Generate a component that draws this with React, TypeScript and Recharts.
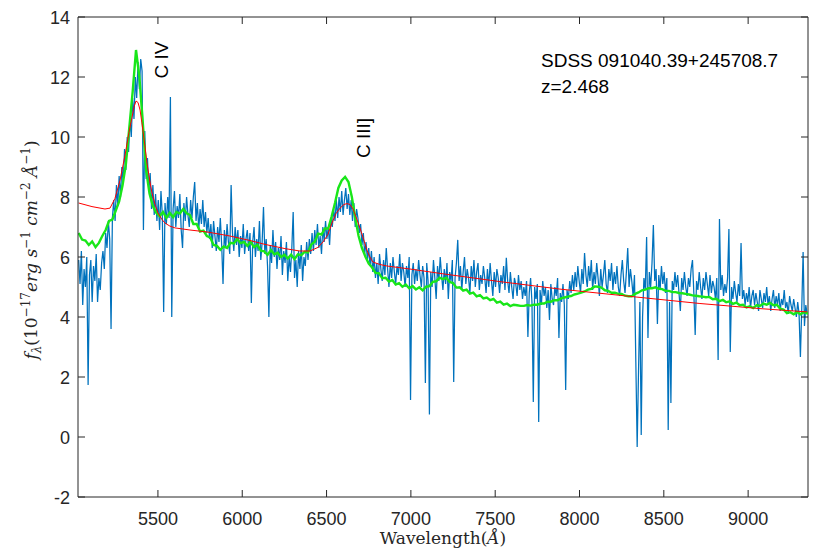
import React from 'react';
import { LineChart, Line, XAxis, YAxis, ReferenceLine } from 'recharts';

// ---------- axes ----------
const X_MIN = 5026;
const X_MAX = 9355;
const Y_MIN = -2;
const Y_MAX = 14;
const xTicks = [5500, 6000, 6500, 7000, 7500, 8000, 8500, 9000];
const yTicks = [-2, 0, 2, 4, 6, 8, 10, 12, 14];

// ---------- observed spectrum (blue), regular wavelength grid ----------
const BLUE_START = 5030;
const BLUE_STEP = 8;
const blueFlux = [
  5.9, 5.1, 6.2, 4.4, 5.6, 5.0, 6.0, 1.73, 5.4, 5.9,
  4.5, 5.7, 5.2, 6.1, 4.5, 5.3, 4.9, 5.8,
  6.2, 5.6, 6.8, 6.3, 7.2, 6.6, 3.6,
  7.3, 7.9, 7.2, 8.4, 7.7, 8.7, 8.0, 9.0, 8.5, 9.6, 8.9, 10.0, 9.5, 10.6, 10.0, 11.3, 10.6,
  12.0, 11.3, 12.5, 11.6, 12.6, 12.2, 6.9, 10.2,
  8.6, 9.3, 8.2, 8.8, 7.6, 8.4, 7.4,
  8.1, 7.2, 7.9, 6.9, 8.2, 7.4, 4.17, 7.8, 7.1, 8.0,
  7.3, 11.33, 4.0, 7.6, 8.2, 7.0, 7.7, 7.3, 8.1, 6.9,
  6.3, 7.8, 7.2, 8.0, 7.4, 7.0, 7.9, 7.3, 8.0, 8.5,
  7.2, 7.8, 6.9, 7.6, 7.1, 7.9, 7.0, 7.5, 6.8,
  7.3, 6.6, 7.1, 6.3, 7.2, 6.7, 6.2, 7.0, 6.5, 7.3,
  6.4, 5.1, 6.9, 6.3, 7.1, 6.5, 6.1, 8.4, 6.8, 6.2,
  7.0, 6.4, 6.9, 6.0, 6.7, 6.3, 7.1, 6.1, 6.6, 6.9,
  6.2, 6.8, 4.47, 6.5, 7.0, 6.0, 6.6, 6.2, 7.2, 5.9, 6.5, 7.67,
  6.1, 6.6, 5.7, 4.0, 6.4, 5.8, 6.9, 6.0, 6.5, 5.6,
  6.3, 5.9, 6.7, 5.4, 6.2, 5.8, 6.5, 5.2, 6.0, 5.5,
  6.3, 7.5, 5.3, 5.9, 5.0, 6.2, 5.6, 6.4, 5.2, 6.0,
  5.7, 6.5, 5.9, 6.6, 6.1,
  6.8, 6.2, 6.9, 6.4, 7.1, 6.3, 6.7, 6.1, 7.0, 6.5,
  7.2, 6.6, 7.0, 6.4, 7.3,
  7.0, 7.6, 7.2, 7.9, 7.3, 8.0, 7.5, 8.2, 7.4, 7.9,
  8.3, 7.6, 8.1, 7.4, 7.9, 7.2, 7.8, 7.0, 7.6,
  7.3, 6.8, 7.1, 6.4, 6.8, 6.1, 6.5, 5.9, 6.3, 5.7,
  6.2, 5.5, 6.0, 5.3, 5.8, 5.1, 6.1, 5.6, 5.2, 5.9,
  5.4, 6.3, 5.6, 5.0, 5.8, 5.3, 6.0, 5.5, 5.1, 5.7,
  5.4, 6.1, 5.2, 5.8, 5.5,
  5.0, 5.7, 5.3, 6.0, 1.23, 5.4, 5.8, 5.1, 5.6, 5.2,
  5.9, 5.4, 5.0, 5.7, 5.3, 1.8, 5.8, 5.2, 0.75, 5.5,
  5.0, 5.9, 5.3, 4.6, 5.7, 5.2, 6.0, 5.4, 4.9, 5.6,
  5.1, 5.8, 4.6, 5.5, 5.2, 5.9, 1.83,
  5.3, 5.8, 6.57, 5.2, 5.7, 4.9, 5.5, 6.0, 5.1, 5.6,
  5.3, 4.8, 5.7, 5.2, 5.9, 5.0, 5.5, 5.8, 4.9, 5.4,
  5.1, 5.7, 5.3, 4.8, 5.6, 5.0, 5.8, 5.2, 4.7, 5.5,
  5.0, 5.6, 5.3, 4.8, 5.4, 5.1, 5.7, 4.9, 5.97, 5.2,
  4.8, 5.5, 5.0, 4.6, 5.3, 5.1, 4.7, 5.4, 4.9, 5.2, 4.6, 5.0,
  4.7, 5.2, 3.33, 4.8, 5.3, 4.5, 1.17, 5.0, 4.6, 5.1,
  0.5, 4.9, 4.4, 5.2, 4.7, 5.0, 4.3, 4.9, 3.9, 5.1,
  4.6, 4.4, 5.0, 4.7, 5.3, 3.3, 4.8, 4.5, 5.1, 4.4,
  1.57, 4.9, 4.6, 5.2, 4.8, 5.4, 4.9,
  5.5, 5.0, 5.7, 5.2, 4.8, 5.6, 5.1, 6.13, 5.4, 5.0,
  5.7, 5.2, 5.9, 4.9, 5.5, 5.1, 5.8, 5.3, 4.7, 5.6,
  5.0, 5.4, 5.9, 5.1, 4.8, 5.6, 5.2, 5.8, 4.9, 5.5,
  5.1, 5.7, 5.0, 4.7, 5.4, 5.9, 5.2, 4.8, 5.5, 6.3,
  5.0, 5.6, 5.2, 4.7, 5.4,
  2.5, -0.33, 2.2, 4.5, 0.07, 4.0, 5.3, 4.9, 6.67, 3.3,
  5.5, 5.0, 5.8, 7.07, 5.2, 5.6, 3.77, 5.4, 4.9, 5.7,
  5.1, 5.5, 4.8, 5.3, 0.23, 4.5, 1.13, 5.2, 4.9, 5.5,
  5.0, 5.4, 4.8, 4.2, 5.3, 4.9, 5.5, 5.0, 4.7, 5.3,
  5.0, 5.6, 5.9, 4.8, 3.4, 5.2, 4.9, 5.5, 5.0, 4.6,
  5.3, 4.9, 5.5, 5.1, 4.7, 5.4, 4.8, 5.2, 5.0, 4.6,
  5.3, 2.57, 7.27, 4.9, 5.4, 4.7, 5.1, 4.8, 5.3, 6.93,
  2.83, 5.0, 4.6, 5.2, 4.8, 4.5, 5.1, 4.7,
  6.47, 4.6, 4.9, 4.4, 4.8, 4.5, 5.0, 4.3, 4.7, 4.9,
  4.4, 4.8, 4.5, 4.2, 4.9, 4.6, 4.3, 4.8, 4.5, 5.0,
  4.4, 4.7, 4.2, 4.6, 4.9, 4.3, 4.7, 4.4, 4.8, 4.2,
  4.6, 4.4, 4.9, 4.3, 4.5, 4.1, 4.7, 4.4, 4.2, 4.6, 4.3, 4.0, 4.5,
  4.1, 2.67, 4.3, 6.17, 3.7, 4.4, 4.1,
];

// ---------- composite template (green), regular wavelength grid ----------
const GREEN_START = 5030;
const GREEN_STEP = 20;
const greenFlux = [
  6.8, 6.58, 6.55, 6.4, 6.52, 6.33, 6.47, 6.7, 6.9, 7.2,
  7.25, 7.55, 7.85, 8.38, 9.1, 10.3, 11.5, 12.9, 12.0, 10.5,
  8.9, 8.12, 7.7, 7.47, 7.36, 7.5, 7.3, 7.47, 7.33, 7.5,
  7.45, 7.6, 7.46, 7.4, 7.1, 7.1, 6.85, 6.88, 6.7, 6.65,
  6.4, 6.37, 6.24, 6.35, 6.3, 6.47, 6.45, 6.6, 6.46, 6.5,
  6.37, 6.5, 6.33, 6.41, 6.21, 6.19, 6.07, 6.23, 6.09, 6.14,
  6.0, 6.07, 5.95, 6.08, 5.93, 6.09, 6.06, 6.17, 6.15, 6.42,
  6.51, 6.78, 6.75, 6.95, 6.95, 7.35, 7.8, 8.3, 8.55, 8.67,
  8.5, 8.0, 7.3, 6.7, 6.3, 6.02, 5.78, 5.65, 5.47, 5.46,
  5.29, 5.31, 5.18, 5.23, 5.08, 5.13, 5.01, 5.08, 4.96, 5.03,
  4.92, 4.99, 4.89, 5.01, 5.03, 5.17, 5.19, 5.31, 5.26, 5.31,
  5.17, 5.13, 4.98, 4.99, 4.88, 4.91, 4.78, 4.81, 4.69, 4.73,
  4.62, 4.65, 4.56, 4.6, 4.48, 4.51, 4.41, 4.45, 4.36, 4.41,
  4.39, 4.37, 4.37, 4.4, 4.38, 4.41, 4.41, 4.45, 4.45, 4.51,
  4.51, 4.56, 4.56, 4.62, 4.65, 4.68, 4.7, 4.75, 4.78, 4.81,
  4.85, 4.91, 4.94, 5.02, 5.01, 4.98, 4.89, 4.87, 4.81, 4.81,
  4.77, 4.77, 4.71, 4.69, 4.69, 4.77, 4.82, 4.89, 4.91, 4.96,
  4.96, 4.99, 4.94, 4.93, 4.87, 4.87, 4.83, 4.83, 4.8, 4.79,
  4.77, 4.75, 4.72, 4.71, 4.69, 4.68, 4.66, 4.67, 4.59, 4.61,
  4.53, 4.57, 4.49, 4.52, 4.44, 4.48, 4.39, 4.41, 4.32, 4.36,
  4.3, 4.39, 4.37, 4.45, 4.41, 4.47, 4.39, 4.41, 4.28, 4.25,
  4.13, 4.16, 4.09, 4.17, 4.09, 4.16, 4.12, 4.19, 4.14, 4.21,
  4.2,
];

// ---------- model fit (red) ----------
const redWave = [
  5030, 5109, 5186, 5216, 5245, 5275, 5305, 5328, 5346, 5358,
  5370, 5382, 5394, 5405, 5423, 5435, 5453, 5465, 5483, 5500,
  5524, 5542, 5571, 5601, 5690, 5797, 5927, 6046, 6135, 6253,
  6342, 6402, 6449, 6479, 6508, 6532, 6556, 6580, 6603, 6621,
  6639, 6657, 6674, 6698, 6722, 6739, 6757, 6775, 6817, 6858,
  6994, 7202, 7528, 7884, 8329, 8714, 9070, 9350,
];
const redFlux = [
  7.8, 7.68, 7.6, 7.63, 7.95, 8.55, 9.4, 10.15, 10.65, 11.0,
  11.2, 11.15, 10.9, 10.47, 9.7, 9.13, 8.5, 8.13, 7.75, 7.47,
  7.25, 7.13, 7.03, 6.97, 6.9, 6.83, 6.7, 6.55, 6.42, 6.28,
  6.2, 6.2, 6.32, 6.5, 6.75, 7.13, 7.45, 7.63, 7.75, 7.78,
  7.75, 7.6, 7.35, 6.97, 6.55, 6.23, 6.0, 5.83, 5.75, 5.7,
  5.6, 5.43, 5.18, 4.93, 4.67, 4.45, 4.28, 4.17,
];

const blueData = blueFlux.map((f, i) => ({ wave: BLUE_START + i * BLUE_STEP, flux: f }));
const greenData = greenFlux.map((f, i) => ({ wave: GREEN_START + i * GREEN_STEP, flux: f }));
const redData = redWave.map((w, i) => ({ wave: w, flux: redFlux[i] }));

// ---------- layout ----------
const W = 831;
const H = 558;
const PLOT_LEFT = 78;
const PLOT_RIGHT = 808;
const PLOT_TOP = 17;
const PLOT_BOTTOM = 497;
const TICK_LEN = 7;
const AXIS_COLOR = '#262626';
const SANS = '"Liberation Sans", Arial, Helvetica, sans-serif';
const SERIF = '"DejaVu Serif", "Liberation Serif", serif';

const XTick = (props: any) => {
  const { x, payload } = props;
  return (
    <g>
      <line x1={x} x2={x} y1={PLOT_BOTTOM} y2={PLOT_BOTTOM - TICK_LEN} stroke={AXIS_COLOR} strokeWidth={1} />
      <line x1={x} x2={x} y1={PLOT_TOP} y2={PLOT_TOP + TICK_LEN} stroke={AXIS_COLOR} strokeWidth={1} />
      <text x={x} y={PLOT_BOTTOM + 28} textAnchor="middle" fontFamily={SANS} fontSize={18} fill={AXIS_COLOR}>
        {payload.value}
      </text>
    </g>
  );
};

const YTick = (props: any) => {
  const { y, payload } = props;
  return (
    <g>
      <line x1={PLOT_LEFT} x2={PLOT_LEFT + TICK_LEN} y1={y} y2={y} stroke={AXIS_COLOR} strokeWidth={1} />
      <line x1={PLOT_RIGHT - TICK_LEN} x2={PLOT_RIGHT} y1={y} y2={y} stroke={AXIS_COLOR} strokeWidth={1} />
      <text x={PLOT_LEFT - 8} y={y + 6.5} textAnchor="end" fontFamily={SANS} fontSize={18} fill={AXIS_COLOR}>
        {payload.value}
      </text>
    </g>
  );
};

export default function App() {
  return (
    <div style={{ position: 'absolute', left: 0, top: 0, width: W, height: H, background: '#fff' }}>
      <LineChart
        width={W}
        height={H}
        margin={{ top: PLOT_TOP, right: W - PLOT_RIGHT, bottom: H - PLOT_BOTTOM - 40, left: 0 }}
      >
        <XAxis
          dataKey="wave"
          type="number"
          domain={[X_MIN, X_MAX]}
          ticks={xTicks}
          allowDataOverflow
          height={40}
          tickSize={0}
          tickMargin={0}
          tickLine={false}
          axisLine={{ stroke: AXIS_COLOR, strokeWidth: 1 }}
          tick={<XTick />}
          interval={0}
        />
        <YAxis
          type="number"
          domain={[Y_MIN, Y_MAX]}
          ticks={yTicks}
          allowDataOverflow
          width={PLOT_LEFT}
          tickSize={0}
          tickMargin={0}
          tickLine={false}
          axisLine={{ stroke: AXIS_COLOR, strokeWidth: 1 }}
          tick={<YTick />}
          interval={0}
        />
        <ReferenceLine x={X_MAX} stroke={AXIS_COLOR} strokeWidth={1} />
        <ReferenceLine y={Y_MAX} stroke={AXIS_COLOR} strokeWidth={1} />
        <Line
          data={blueData}
          dataKey="flux"
          type="linear"
          stroke="#0072BD"
          strokeWidth={1.25}
          dot={false}
          isAnimationActive={false}
        />
        <Line
          data={greenData}
          dataKey="flux"
          type="linear"
          stroke="#19E619"
          strokeWidth={2.4}
          dot={false}
          isAnimationActive={false}
        />
        <Line
          data={redData}
          dataKey="flux"
          type="linear"
          stroke="#FF0000"
          strokeWidth={1}
          dot={false}
          isAnimationActive={false}
        />
      </LineChart>
      <svg
        width={W}
        height={H}
        style={{ position: 'absolute', left: 0, top: 0, pointerEvents: 'none' }}
      >
        <text x={541} y={67} fontFamily={SANS} fontSize={19} fill="#000">SDSS 091040.39+245708.7</text>
        <text x={541} y={93} fontFamily={SANS} fontSize={19} fill="#000">z=2.468</text>
        <text transform="translate(168,60) rotate(-90)" textAnchor="middle" fontFamily={SANS} fontSize={19} fill="#000">C IV</text>
        <text transform="translate(370,138) rotate(-90)" textAnchor="middle" fontFamily={SANS} fontSize={19} fill="#000">C III]</text>
        <text transform="translate(37,250) rotate(-90)" textAnchor="middle" fontFamily={SERIF} fontSize={17} fill={AXIS_COLOR}>
          <tspan fontStyle="italic">f</tspan>
          <tspan fontStyle="italic" fontSize={12} dy={4}>λ</tspan>
          <tspan dy={-4}>(10</tspan>
          <tspan fontSize={12} dy={-7}>−17</tspan>
          <tspan fontStyle="italic" dy={7}>erg</tspan>
          <tspan fontStyle="italic"> s</tspan>
          <tspan fontSize={12} dy={-7}>−1</tspan>
          <tspan fontStyle="italic" dy={7}> cm</tspan>
          <tspan fontSize={12} dy={-7}>−2</tspan>
          <tspan fontStyle="italic" dy={7}> Å</tspan>
          <tspan fontSize={12} dy={-7}>−1</tspan>
          <tspan dy={7}>)</tspan>
        </text>
        <text x={443} y={544} textAnchor="middle" fontFamily={SERIF} fontSize={17} fill={AXIS_COLOR}>
          <tspan>Wavelength(</tspan>
          <tspan fontStyle="italic">Å</tspan>
          <tspan>)</tspan>
        </text>
      </svg>
    </div>
  );
}
